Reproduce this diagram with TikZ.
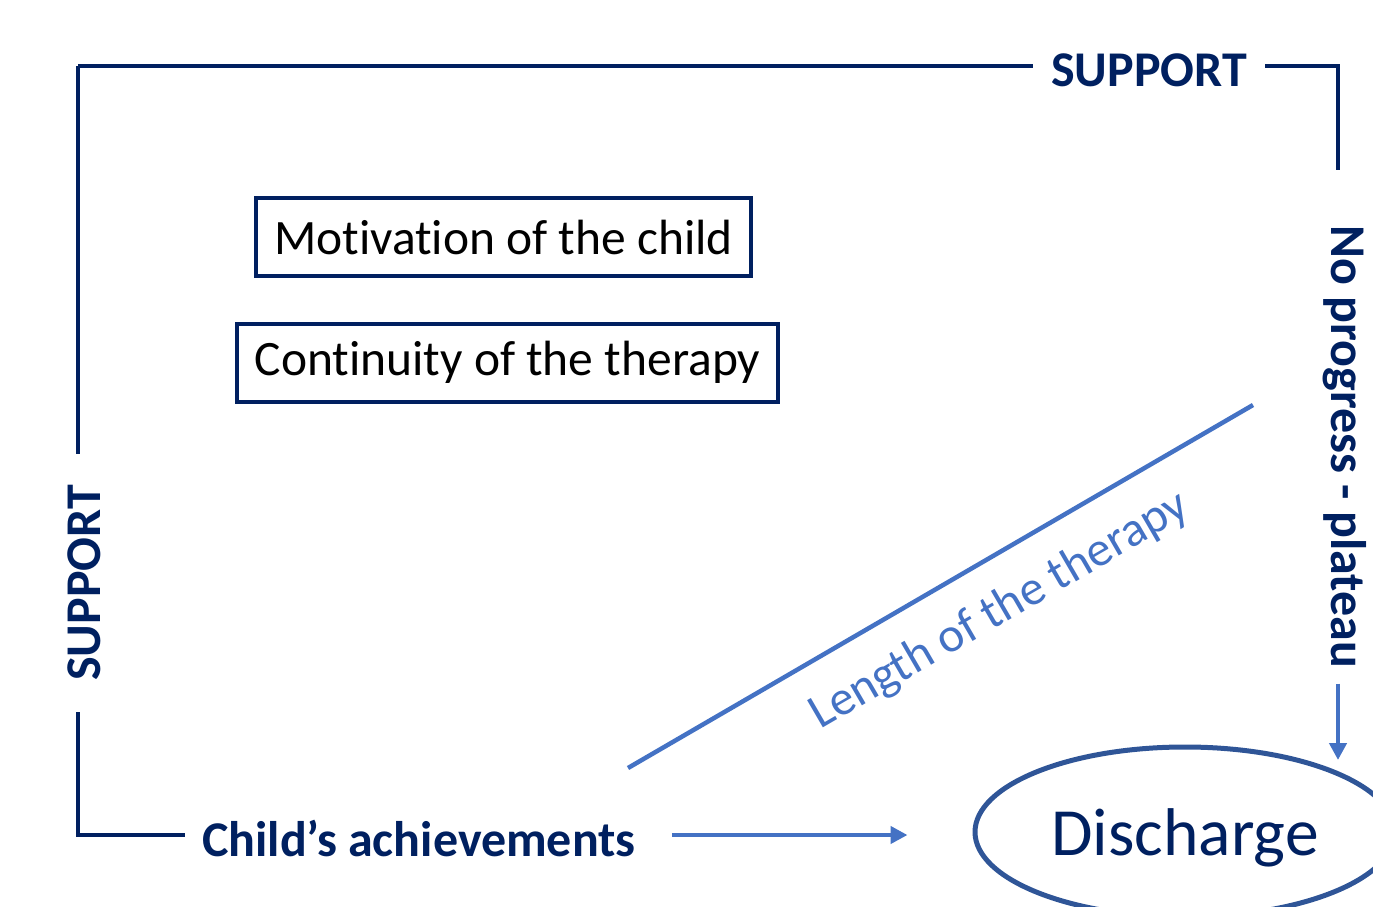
\documentclass[tikz,border=0pt]{standalone}
\usepackage{fontspec}
\setmainfont{Carlito}[Ligatures=NoCommon]
\usepackage{tikz}
\usetikzlibrary{arrows.meta,shapes.geometric}

\definecolor{navy}{HTML}{002060}
\definecolor{lightblue}{HTML}{4472C4}
\definecolor{ringblue}{HTML}{2F5597}

\begin{document}
\begin{tikzpicture}[x=1pt,y=-1pt]

\tikzset{frame/.style = {draw=navy,line width=4.5pt}}
\tikzset{label/.style = {text=navy,inner xsep=18pt,font=\fontsize{50}{60}\selectfont\bfseries}}
\tikzset{factor/.style = {shape=rectangle,draw=navy,line width=4pt,text=black,
  inner xsep=18pt,minimum height=78pt,font=\fontsize{49.5}{59}\selectfont}}
\tikzset{edge/.style = {-{Triangle[length=17pt,width=17pt]},draw=lightblue,line width=4.5pt}}

\useasboundingbox (0,0) rectangle (1373,907);
\clip (0,0) rectangle (1373,907);

% corners
\coordinate (tl) at (78,66);
\coordinate (tr) at (1338,66);
\coordinate (rt) at (1338,170);
\coordinate (bl) at (78,835);
\coordinate (plateauend) at (1338,760);
\coordinate (lenstart) at (628,768);
\coordinate (lenend) at (1253,405);
% nodes
\node[label] (suptop) at (1149,70) {SUPPORT};
\node[label,rotate=90,inner xsep=31pt] (supleft) at (84,583) {SUPPORT};
\node[label,inner xsep=17pt] (ach) at (419,838) {Child’s achievements};
\node[label,rotate=-90,inner xsep=15pt] (plateau) at (1345,447) {No progress - plateau};
\node[factor] (motiv) at (503.5,237) {Motivation of the child};
\node[factor] (contin) at (507.5,362.5) {Continuity of the therapy};
\node[shape=ellipse,draw=ringblue,line width=5pt,minimum width=420pt,minimum height=170pt,
  text depth=0pt,text=navy,font=\fontsize{67.5}{80}\selectfont] (disch) at (1185,832) {Discharge};
%edges
\draw[frame] (tl) -- (tl -| suptop.west);
\draw[frame] (tr -| suptop.east) -- (tr) -- (rt);
\draw[frame] (tl) -- (tl |- supleft.east);
\draw[frame] (bl |- supleft.west) -- (bl) -- (bl -| ach.west);
\draw[edge] (bl -| ach.east) -- (bl -| disch.west) [shorten <=19pt,shorten >=65pt];
\draw[edge] (plateau.east -| tr) -- (plateauend);
\draw[draw=lightblue,line width=4.5pt] (lenstart) -- (lenend)
  node[pos=0.554,sloped,below=24pt,text=lightblue,font=\fontsize{49}{58}\selectfont] (len) {Length of the therapy};
\end{tikzpicture}
\end{document}
